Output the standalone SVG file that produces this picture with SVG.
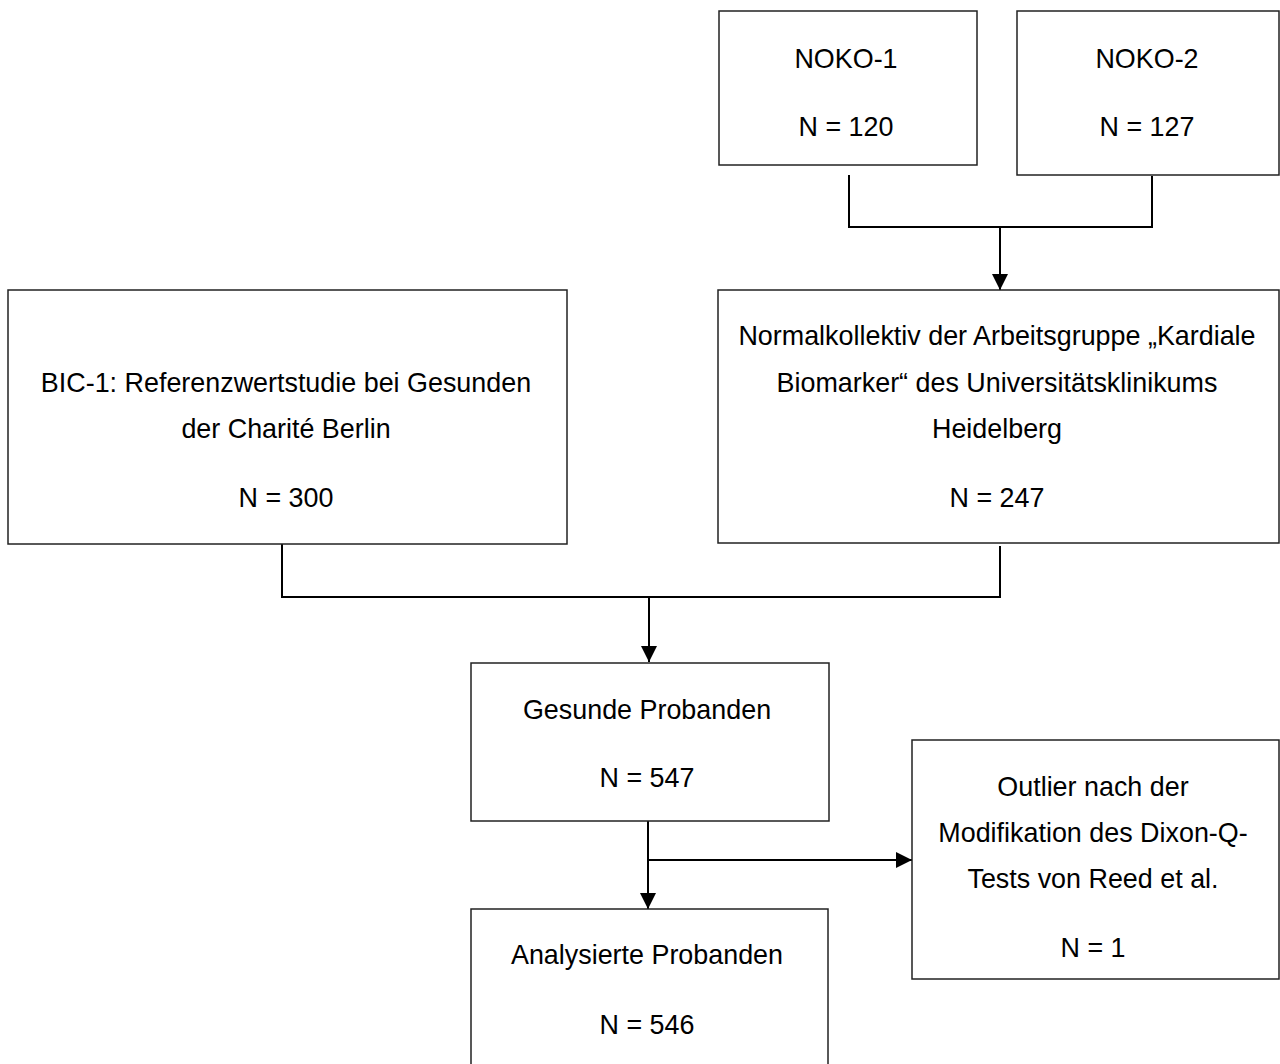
<svg xmlns="http://www.w3.org/2000/svg" width="1280" height="1064" viewBox="0 0 1280 1064">
<defs>
<style>
.box{fill:#fff;stroke:#222;stroke-width:1.5}
.t{font-family:"Liberation Sans",Arial,sans-serif;font-size:26.9px;fill:#000;text-anchor:middle}
.c{fill:none;stroke:#000;stroke-width:2}
</style>
<marker id="ah" markerUnits="userSpaceOnUse" markerWidth="16" markerHeight="16" viewBox="0 0 16 16" refX="16" refY="8" orient="auto">
<path d="M0,0 L16,8 L0,16 Z" fill="#000"/>
</marker>
</defs>
<rect width="1280" height="1064" fill="#fff"/>
<g id="connectors">
<path class="c" d="M849,175 V227 H1152 V176"/>
<path class="c" d="M1000,227 V290" marker-end="url(#ah)"/>
<path class="c" d="M282,544 V597 H1000 V546"/>
<path class="c" d="M649,597 V662" marker-end="url(#ah)"/>
<path class="c" d="M648,820 V909" marker-end="url(#ah)"/>
<path class="c" d="M648,860 H912" marker-end="url(#ah)"/>
</g>
<g id="noko1">
<rect class="box" x="719" y="11" width="258" height="154"/>
<text class="t" x="846" y="68">NOKO-1</text>
<text class="t" x="846" y="136">N = 120</text>
</g>
<g id="noko2">
<rect class="box" x="1017" y="11" width="262" height="164"/>
<text class="t" x="1147" y="68">NOKO-2</text>
<text class="t" x="1147" y="136">N = 127</text>
</g>
<g id="bic1">
<rect class="box" x="8" y="290" width="559" height="254"/>
<text class="t" x="286" y="392">BIC-1: Referenzwertstudie bei Gesunden</text>
<text class="t" x="286" y="438">der Charité Berlin</text>
<text class="t" x="286" y="507">N = 300</text>
</g>
<g id="normalkollektiv">
<rect class="box" x="718" y="290" width="561" height="253"/>
<text class="t" x="997" y="345">Normalkollektiv der Arbeitsgruppe „Kardiale</text>
<text class="t" x="997" y="392">Biomarker“ des Universitätsklinikums</text>
<text class="t" x="997" y="438">Heidelberg</text>
<text class="t" x="997" y="507">N = 247</text>
</g>
<g id="gesunde">
<rect class="box" x="471" y="663" width="358" height="158"/>
<text class="t" x="647" y="719">Gesunde Probanden</text>
<text class="t" x="647" y="787">N = 547</text>
</g>
<g id="outlier">
<rect class="box" x="912" y="740" width="367" height="239"/>
<text class="t" x="1093" y="796">Outlier nach der</text>
<text class="t" x="1093" y="842">Modifikation des Dixon-Q-</text>
<text class="t" x="1093" y="888">Tests von Reed et al.</text>
<text class="t" x="1093" y="957">N = 1</text>
</g>
<g id="analysierte">
<rect class="box" x="471" y="909" width="357" height="170"/>
<text class="t" x="647" y="964">Analysierte Probanden</text>
<text class="t" x="647" y="1034">N = 546</text>
</g>
</svg>
